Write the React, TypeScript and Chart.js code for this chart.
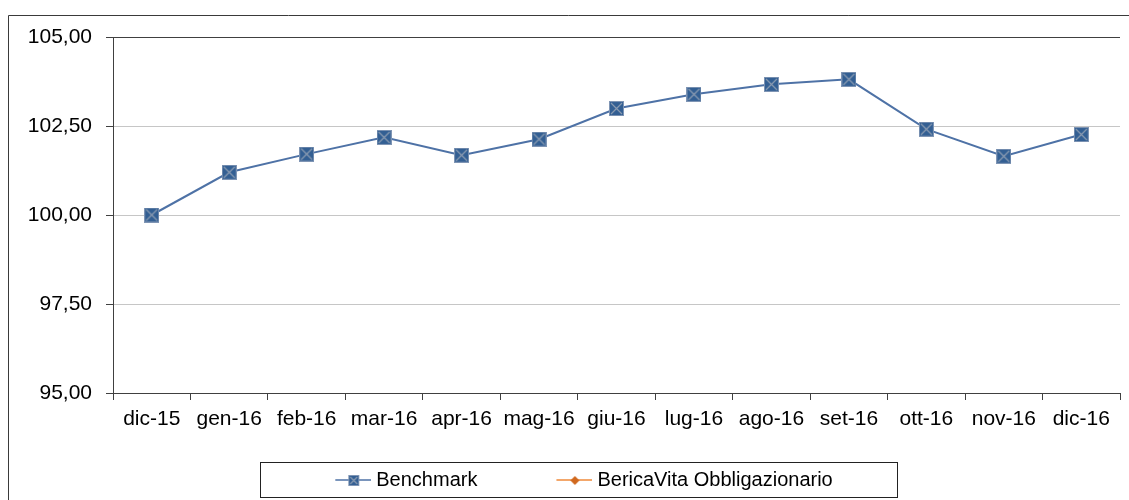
import React, { useEffect, useRef } from "react";
import { Chart, registerables } from "chart.js";

Chart.register(...registerables);

// ---- data ----
const categories: string[] = [
  "dic-15", "gen-16", "feb-16", "mar-16", "apr-16", "mag-16", "giu-16",
  "lug-16", "ago-16", "set-16", "ott-16", "nov-16", "dic-16",
];
const benchmark: number[] = [
  100.0, 101.2, 101.71, 102.18, 101.68, 102.13, 102.99,
  103.39, 103.67, 103.81, 102.41, 101.65, 102.26,
];
const bericaVita: (number | null)[] = [
  null, null, null, null, null, null, null, null, null, null, null, null, null,
];
const seriesLabels: string[] = ["Benchmark", "BericaVita Obbligazionario"];
const yMin = 95;
const yMax = 105;
const yStep = 2.5;

const FONT = "'Liberation Sans', Arial, sans-serif";
const BLUE_LINE = "#4e72a6";
const ORANGE_LINE = "#ef8a3a";
const LEGEND_PAD = 40;
const LEGEND_BOX_W = 70;

function makeSquare(size: number): HTMLCanvasElement {
  const c = document.createElement("canvas");
  c.width = size;
  c.height = size;
  const g = c.getContext("2d")!;
  g.fillStyle = "#335f93";
  g.fillRect(0, 0, size, size);
  g.strokeStyle = "#7f95b4";
  g.lineWidth = 1;
  g.strokeRect(0.5, 0.5, size - 1, size - 1);
  g.strokeStyle = "#8c9cb2";
  g.lineWidth = 1.2;
  g.beginPath();
  g.moveTo(2, 2);
  g.lineTo(size - 2, size - 2);
  g.moveTo(size - 2, 2);
  g.lineTo(2, size - 2);
  g.stroke();
  return c;
}

function makeDiamond(size: number): HTMLCanvasElement {
  const c = document.createElement("canvas");
  c.width = size;
  c.height = size;
  const g = c.getContext("2d")!;
  const h = size / 2;
  g.fillStyle = "#d0681e";
  g.beginPath();
  g.moveTo(h, 0);
  g.lineTo(size, h);
  g.lineTo(h, size);
  g.lineTo(0, h);
  g.closePath();
  g.fill();
  return c;
}

// legend glyph: transparent left area, 36px line+marker on the right
function makeLegendGlyph(kind: "square" | "diamond"): HTMLCanvasElement {
  const W = LEGEND_BOX_W + 10;
  const H = 16;
  const c = document.createElement("canvas");
  c.width = W;
  c.height = H;
  const g = c.getContext("2d")!;
  const x0 = W - 36;
  const cx = x0 + 18;
  const cy = H / 2;
  g.strokeStyle = kind === "square" ? BLUE_LINE : ORANGE_LINE;
  g.lineWidth = 1.5;
  g.beginPath();
  g.moveTo(x0, cy);
  g.lineTo(W, cy);
  g.stroke();
  const m = kind === "square" ? makeSquare(11) : makeDiamond(9);
  g.drawImage(m, Math.round(cx - m.width / 2), Math.round(cy - m.height / 2));
  return c;
}

const framePlugin = {
  id: "framePlugin",
  beforeDraw(chart: any) {
    const ctx = chart.ctx;
    ctx.save();
    ctx.strokeStyle = "#3a3a3a";
    ctx.lineWidth = 1;
    ctx.beginPath();
    ctx.moveTo(8.5, chart.height);
    ctx.lineTo(8.5, 15.5);
    ctx.lineTo(chart.width, 15.5);
    ctx.stroke();
    ctx.restore();
  },
  afterDraw(chart: any) {
    const lg = chart.legend;
    if (!lg || !lg.legendHitBoxes || lg.legendHitBoxes.length < 2) return;
    const hb0 = lg.legendHitBoxes[0];
    const hb1 = lg.legendHitBoxes[1];
    const cy = lg.top + lg.options.labels.padding + 10;
    const glyphStart = hb0.left + LEGEND_BOX_W - 31;
    const left = Math.round(glyphStart - 75) + 0.5;
    const right = Math.round(hb1.left + hb1.width + 64) + 0.5;
    const top = Math.round(cy - 18) + 0.5;
    const bottom = Math.round(cy + 17) + 0.5;
    const ctx = chart.ctx;
    ctx.save();
    ctx.strokeStyle = "#222";
    ctx.lineWidth = 1;
    ctx.strokeRect(left, top, right - left, bottom - top);
    ctx.restore();
  },
};

export default function App() {
  const ref = useRef<HTMLCanvasElement>(null);

  useEffect(() => {
    if (!ref.current) return;
    const square = makeSquare(15);
    const diamond = makeDiamond(9);
    const glyphs = [makeLegendGlyph("square"), makeLegendGlyph("diamond")];

    const chart = new Chart(ref.current, {
      type: "line",
      data: {
        labels: categories,
        datasets: [
          {
            label: seriesLabels[0],
            data: benchmark,
            borderColor: BLUE_LINE,
            backgroundColor: "#335f93",
            borderWidth: 2,
            pointStyle: square as any,
            pointRadius: 7,
            tension: 0,
            fill: false,
          },
          {
            label: seriesLabels[1],
            data: bericaVita,
            borderColor: ORANGE_LINE,
            backgroundColor: "#d0681e",
            borderWidth: 2,
            pointStyle: diamond as any,
            pointRadius: 5,
            tension: 0,
            fill: false,
          },
        ],
      },
      options: {
        animation: false,
        responsive: false,
        events: [],
        layout: { padding: { left: 0, top: 37, right: 0, bottom: 0 } },
        scales: {
          x: {
            type: "category",
            offset: true,
            grid: {
              offset: true,
              drawOnChartArea: false,
              drawTicks: true,
              tickLength: 7,
              tickColor: "#404040",
              color: "#404040",
            },
            border: { color: "#404040", width: 1 },
            ticks: {
              font: { family: FONT, size: 21 },
              color: "#000",
              padding: 7,
              maxRotation: 0,
              autoSkip: false,
            },
            afterFit(s: any) {
              s.height = 37;
            },
          },
          y: {
            min: yMin,
            max: yMax,
            ticks: {
              stepSize: yStep,
              font: { family: FONT, size: 21 },
              color: "#000",
              padding: 14,
              callback: (v: any) => Number(v).toFixed(2).replace(".", ","),
            },
            grid: {
              color: (c: any) =>
                c.tick && c.tick.value === yMax ? "#404040" : "#c6c6c6",
              tickLength: 7,
              tickColor: "#404040",
            },
            border: { color: "#404040", width: 1 },
            afterFit(s: any) {
              s.width = 113;
            },
          },
        },
        plugins: {
          tooltip: { enabled: false },
          title: { display: false },
          legend: {
            display: true,
            position: "bottom",
            align: "center",
            labels: {
              usePointStyle: true,
              pointStyleWidth: LEGEND_BOX_W,
              padding: LEGEND_PAD,
              color: "#000",
              font: { family: FONT, size: 20 },
              generateLabels: (ch: any) => {
                const items = (Chart.defaults.plugins.legend.labels as any).generateLabels(ch);
                return items.map((it: any, i: number) => ({
                  ...it,
                  pointStyle: glyphs[i],
                  rotation: 0,
                }));
              },
            },
          },
        },
      },
      plugins: [framePlugin],
    } as any);

    return () => chart.destroy();
  }, []);

  return (
    <div
      style={{
        position: "fixed",
        left: 0,
        top: 0,
        width: 1129,
        height: 500,
        overflow: "hidden",
        background: "#fff",
      }}
    >
      <canvas
        ref={ref}
        width={1129}
        height={500}
        style={{ display: "block", width: 1129, height: 500 }}
      />
    </div>
  );
}
